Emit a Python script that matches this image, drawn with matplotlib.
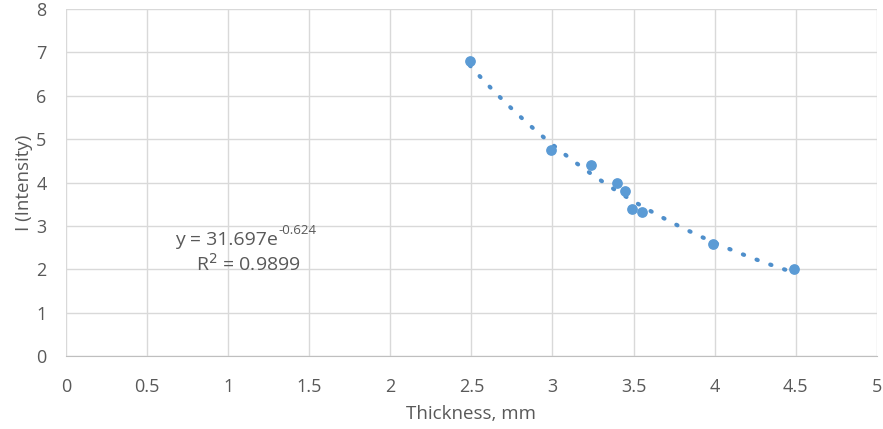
import numpy as np
import matplotlib.pyplot as plt

plt.rcParams['font.family'] = ['Open Sans', 'DejaVu Sans']

# thickness (mm) and intensity
thickness = [2.49, 2.99, 3.24, 3.40, 3.45, 3.49, 3.55, 3.99, 4.49]
intensity = [6.81, 4.76, 4.40, 3.98, 3.80, 3.40, 3.33, 2.58, 2.00]

# exponential trendline shown on the chart
fit_a = 31.697
fit_b = -0.624
r_squared = 0.9899

x_ticks = [0, 0.5, 1, 1.5, 2, 2.5, 3, 3.5, 4, 4.5, 5]
x_labels = ['0', '0.5', '1', '1.5', '2', '2.5', '3', '3.5', '4', '4.5', '5']
y_ticks = [0, 1, 2, 3, 4, 5, 6, 7, 8]

grey = '#595959'
blue = '#5B9BD5'

fig = plt.figure(figsize=(8.83, 4.29), dpi=100)
ax = fig.add_axes([0.0747, 0.170, 0.9183, 0.809])

xs = np.linspace(min(thickness), max(thickness), 100)
ax.plot(xs, fit_a * np.exp(fit_b * xs), linestyle=(0, (0.3, 3.2)), color='#4F8FCB',
        linewidth=3, dash_capstyle='round', zorder=2)
ax.scatter(thickness, intensity, s=45, color=blue, zorder=3)

ax.set_xlim(0, 5)
ax.set_ylim(0, 8)
ax.set_xticks(x_ticks)
ax.set_xticklabels(x_labels)
ax.set_yticks(y_ticks)
ax.grid(True, color='#D9D9D9', linewidth=1)
ax.set_axisbelow(True)
for s in ['top', 'right', 'left']:
    ax.spines[s].set_visible(False)
ax.spines['bottom'].set_color('#BFBFBF')
ax.tick_params(length=0, labelsize=13, colors=grey)
ax.tick_params(axis='x', pad=16)
ax.tick_params(axis='y', pad=14)

ax.set_xlabel('Thickness, mm', fontsize=13.5, color=grey, labelpad=6)
ax.set_ylabel('I (Intensity)', fontsize=13.5, color=grey, labelpad=2)

ax.text(0.67, 2.68, 'y = %.3fe' % fit_a, fontsize=14, color=grey,
        va='center', ha='left')
ax.text(1.31, 2.9, '%.3f' % fit_b, fontsize=9.5, color=grey,
        va='center', ha='left')
ax.text(0.80, 2.13, 'R$^2$ = %.4f' % r_squared, fontsize=14, color=grey,
        va='center', ha='left')

fig.savefig('out.png', dpi=100)
